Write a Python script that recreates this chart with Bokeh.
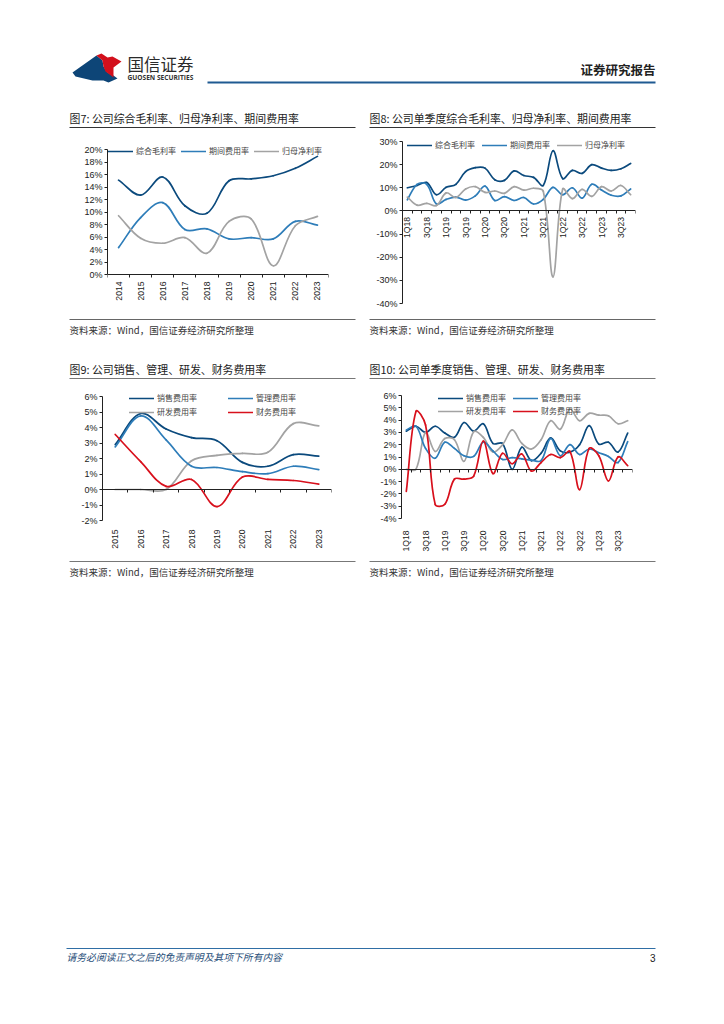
from bokeh.plotting import figure
from bokeh.layouts import column, row
from bokeh.models import Range1d, FixedTicker, LinearAxis, PrintfTickFormatter, ColumnDataSource, Legend, LegendItem
from bokeh.core.properties import value
from bokeh.embed import file_html
from bokeh.resources import INLINE
import math

NAVY, BLUE, GRAY, RED = "#0B4A7D", "#2E7DB9", "#A3A3A3", "#D8101C"
CJK = "Noto Sans CJK SC"
NUM = "Liberation Sans"

years7 = ["2014", "2015", "2016", "2017", "2018", "2019", "2020", "2021", "2022", "2023"]
gross7 = [15.1, 12.7, 15.6, 11.0, 9.8, 15.0, 15.3, 15.8, 17.0, 18.9]
expense7 = [4.3, 9.1, 11.5, 7.2, 7.3, 5.7, 5.9, 5.7, 8.5, 7.9]
net7 = [9.4, 5.8, 5.0, 5.9, 3.4, 8.5, 8.9, 1.4, 7.8, 9.3]

quarters = ["1Q18", "2Q18", "3Q18", "4Q18", "1Q19", "2Q19", "3Q19", "4Q19", "1Q20", "2Q20", "3Q20", "4Q20",
            "1Q21", "2Q21", "3Q21", "4Q21", "1Q22", "2Q22", "3Q22", "4Q22", "1Q23", "2Q23", "3Q23", "4Q23"]
gross8 = [10, 11, 12.3, 7, 10.2, 11.5, 17, 18.7, 18.5, 13.5, 13.2, 17.3, 15.3, 14.5, 11, 26, 14, 17.5, 16.2, 20, 18.5, 17.5, 18.2, 20.5]
expense8 = [4.8, 11.5, 11.5, 3, 5, 6, 4.7, 6.5, 10.7, 4.5, 6.2, 4.5, 5.8, 3, 5, 10.2, 7, 10, 5.5, 11.5, 9, 6.8, 6.5, 9.5]
net8 = [6, 2.5, 3.3, 2.3, 7.8, 5.8, 9.5, 10.5, 8, 8.6, 7.6, 10.5, 9, 9.8, 8.5, -28.5, 9.5, 5.3, 9.3, 6.3, 10.5, 8.6, 11, 7]

years9 = ["2015", "2016", "2017", "2018", "2019", "2020", "2021", "2022", "2023"]
selling9 = [2.9, 4.9, 3.9, 3.35, 3.15, 1.75, 1.5, 2.25, 2.15]
admin9 = [2.75, 4.75, 3.2, 1.5, 1.42, 1.15, 1.02, 1.5, 1.28]
rd9 = [0, 0, 0, 1.85, 2.2, 2.33, 2.4, 4.25, 4.1]
fin9 = [3.55, 1.8, 0.2, 0.65, -1.1, 0.8, 0.65, 0.58, 0.35]

selling10 = [3.1, 3.5, 3.0, 3.5, 2.95, 2.6, 3.8, 3.1, 3.7, 2.1, 2.1, 0.0, 1.8, 0.7, 1.3, 2.55, 1.5, 1.4, 2.0, 3.55, 2.05, 2.2, 1.4, 2.95]
admin10 = [3.2, 3.5, 1.7, 0.9, 2.2, 1.7, 1.1, 1.05, 2.2, 1.5, 0.8, 0.95, 0.85, 0.75, 0.7, 2.5, 1.1, 2.0, 1.2, 1.65, 1.35, 1.05, 0.55, 2.25]
rd10 = [0, 0, 3.0, 1.45, 2.5, 2.4, 0.65, 3.05, 2.6, 1.4, 2.0, 3.2, 2.1, 1.65, 2.4, 3.95, 3.25, 4.9, 3.95, 4.55, 4.4, 4.35, 3.7, 3.95]
fin10 = [-1.8, 4.7, 3.6, -2.85, -2.85, -0.8, -0.8, -0.55, 2.3, -0.35, 1.3, 0.45, 1.25, -0.15, 0.55, 1.2, 0.95, 1.45, -1.65, 1.7, 1.1, -0.95, 1.0, 0.3]

LOGO_BLUE_X = [72, 96, 102, 103, 107, 113, 117, 108, 103, 92, 75]
LOGO_BLUE_Y = [72, 55, 60, 66, 72, 75, 78, 82, 80, 80, 76]
LOGO_RED_X = [96, 101, 107, 112, 121, 113, 113, 105, 103, 102]
LOGO_RED_Y = [55, 53, 57, 56, 61, 67, 77, 71, 66, 60]


def smooth(p, values, color, sx, sy, width=1.7):
    """One cubic Bezier between each pair of read values, spline-smoothed as the source chart's lines are."""
    n = len(values)
    xs = [i + 0.5 for i in range(n)]
    t = 0.36
    out_c, in_c = [], []
    for i in range(n):
        a, b = max(i - 1, 0), min(i + 1, n - 1)
        d0 = math.hypot((xs[i] - xs[a]) * sx, (values[i] - values[a]) * sy)
        d1 = math.hypot((xs[b] - xs[i]) * sx, (values[b] - values[i]) * sy)
        total = (d0 + d1) or 1
        fa, fb = t * d0 / total, t * d1 / total
        dx, dy = xs[b] - xs[a], values[b] - values[a]
        in_c.append((xs[i] - fa * dx, values[i] - fa * dy))
        out_c.append((xs[i] + fb * dx, values[i] + fb * dy))
    idx = range(n - 1)
    src = ColumnDataSource(dict(
        x0=[xs[i] for i in idx], y0=[values[i] for i in idx],
        x1=[xs[i + 1] for i in idx], y1=[values[i + 1] for i in idx],
        cx0=[out_c[i][0] for i in idx], cy0=[out_c[i][1] for i in idx],
        cx1=[in_c[i + 1][0] for i in idx], cy1=[in_c[i + 1][1] for i in idx]))
    return p.bezier("x0", "y0", "x1", "y1", "cx0", "cy0", "cx1", "cy1", source=src,
                    line_color=color, line_width=width, line_cap="round")


def make_legend(items, at, ncols, spacing):
    return Legend(items=items, location=at, orientation="horizontal", ncols=ncols,
                  glyph_width=25, glyph_height=8, label_height=10, label_standoff=3, spacing=spacing,
                  padding=0, margin=0, background_fill_alpha=0, border_line_color=None,
                  label_text_font=CJK, label_text_font_size="8px", label_text_color="#444444")


def chart(cats, label_step, ylo, yhi, ystep, horiz, w, row_box, frame_box, tick_box, standoff, at_zero, series, legends):
    """Frames in one row share top and bottom (Bokeh aligns them); each y range is set so ticks fall on tick_box."""
    left, right = horiz
    row_top, row_bottom = row_box
    frame_top, frame_bottom = frame_box
    tick_top, tick_bottom = tick_box
    n = len(cats)
    sy = (tick_bottom - tick_top) / (yhi - ylo)
    y0 = ylo - (frame_bottom - tick_bottom) / sy
    y1 = yhi + (tick_top - frame_top) / sy
    p = figure(width=w, height=row_bottom - row_top, x_range=Range1d(0, n), y_range=Range1d(y0, y1),
               min_border_left=left, min_border_right=right,
               min_border_top=frame_top - row_top, min_border_bottom=row_bottom - frame_bottom,
               toolbar_location=None, output_backend="svg", outline_line_color=None,
               background_fill_color="white", border_fill_color="white")
    p.grid.visible = False
    ya = p.yaxis[0]
    ya.bounds = (ylo, yhi)
    ya.ticker = FixedTicker(ticks=list(range(ylo, yhi + 1, ystep)))
    ya.formatter = PrintfTickFormatter(format="%d%%")
    ya.major_label_text_font = NUM
    ya.major_label_text_font_size = "9px"
    ya.major_label_text_color = "#222222"
    ya.major_tick_in = 0
    ya.major_tick_out = 3
    ya.minor_tick_line_color = None
    ya.major_label_standoff = 2
    ya.axis_line_color = "#222222"
    ya.major_tick_line_color = "#222222"

    xa = p.xaxis[0]
    shown = list(range(0, n, label_step))
    xa.ticker = FixedTicker(ticks=[i + 0.5 for i in shown])
    xa.major_label_overrides = {i + 0.5: cats[i] for i in shown}
    xa.major_label_orientation = math.pi / 2
    xa.major_label_text_font = NUM
    xa.major_label_text_font_size = "8.6px"
    xa.major_label_text_color = "#222222"
    xa.major_label_standoff = standoff
    xa.major_tick_line_color = None
    xa.minor_tick_line_color = None
    xa.axis_line_color = None
    xa.fixed_location = 0 if at_zero else ylo

    axis_at = 0 if ylo < 0 else ylo
    marks = LinearAxis(ticker=FixedTicker(ticks=list(range(n + 1))), major_label_text_color=None,
                       major_label_text_font_size="1px", axis_line_color="#222222", major_tick_line_color="#222222",
                       major_tick_in=0, major_tick_out=3, minor_tick_line_color=None, fixed_location=axis_at)
    p.add_layout(marks, "below")

    items = []
    sx = (w - left - right) / n
    for label, vals, color in series:
        r = smooth(p, vals, color, sx, sy)
        items.append(LegendItem(label=label, renderers=[r]))
    for at, first, last, ncols, spacing in legends:
        p.add_layout(make_legend(items[first:last], at, ncols, spacing), "center")
    return p


def strip(page_top, page_bottom):
    p = figure(width=716, height=page_bottom - page_top, x_range=Range1d(0, 716),
               y_range=Range1d(page_bottom, page_top), x_axis_location=None, y_axis_location=None,
               toolbar_location=None, output_backend="svg", min_border=0, outline_line_color=None,
               background_fill_color="white", border_fill_color="white")
    p.grid.visible = False
    return p


def put(p, x, y, s, size, font=CJK, color="#222222", style="normal", align="left"):
    p.text([x], [y], text=[s], text_font=value(font), text_font_size=size, text_color=color,
           text_font_style=style, text_baseline="middle", text_align=align)


def rule(p, x0, x1, y, color="#555555", width=1):
    p.segment([x0], [y], [x1], [y], line_color=color, line_width=width)


def source_line(p, x, y):
    put(p, x, y, "资料来源\uff1aWind\uff0c国信证券经济研究所整理", "9.5px", color="#333333")


top = strip(0, 130)
top.patch(LOGO_BLUE_X, LOGO_BLUE_Y, color="#0D4577", line_width=0)
top.patch(LOGO_RED_X, LOGO_RED_Y, color="#D3101C", line_width=0)
put(top, 127, 63, "国信证券", "16.5px", color="#2A2A2A")
put(top, 127, 77, "GUOSEN SECURITIES", "6.6px", font="Open Sans", color="#333333", style="bold")
rule(top, 207, 655, 82, "#1F5A92", 2)
put(top, 655, 69, "证券研究报告", "12.5px", color="#222222", style="bold", align="right")
put(top, 69, 117, "图7: 公司综合毛利率、归母净利率、期间费用率", "10.9px")
put(top, 369, 117, "图8: 公司单季度综合毛利率、归母净利率、期间费用率", "10.9px")
rule(top, 69, 355, 127, "#333333", 1)
rule(top, 369, 655, 127, "#333333", 1)

ROW1 = (130, 318)
FRAME1 = (133, 306)
c7 = chart(years7, 1, 0, 20, 2, (107, 34), 362, ROW1, FRAME1, (149, 274), 1, False,
           [("综合毛利率", gross7, NAVY), ("期间费用率", expense7, BLUE), ("归母净利率", net7, GRAY)],
           [((1, 150), 0, 3, 3, 5)])
c8 = chart(quarters, 2, -40, 30, 10, (40, 81), 354, ROW1, FRAME1, (141, 303), 0, True,
           [("综合毛利率", gross8, NAVY), ("期间费用率", expense8, BLUE), ("归母净利率", net8, GRAY)],
           [((5, 156), 0, 3, 3, 7)])

mid = strip(318, 380)
rule(mid, 69, 355, 319, "#666666", 1)
rule(mid, 369, 655, 319, "#666666", 1)
source_line(mid, 69, 329)
source_line(mid, 369, 329)
put(mid, 69, 368, "图9: 公司销售、管理、研发、财务费用率", "10.9px")
put(mid, 369, 368, "图10: 公司单季度销售、管理、研发、财务费用率", "10.9px")
rule(mid, 69, 355, 378, "#777777", 1)
rule(mid, 369, 655, 378, "#777777", 1)

ROW2 = (380, 558)
FRAME2 = (384, 556)
s9 = [("销售费用率", selling9, NAVY), ("研发费用率", rd9, GRAY), ("管理费用率", admin9, BLUE), ("财务费用率", fin9, RED)]
c9 = chart(years9, 1, -2, 6, 1, (102, 31), 362, ROW2, FRAME2, (396, 520), 3, False, s9,
           [((27, 139), 0, 2, 1, 3), ((126, 139), 2, 4, 1, 3)])
s10 = [("销售费用率", selling10, NAVY), ("研发费用率", rd10, GRAY), ("管理费用率", admin10, BLUE), ("财务费用率", fin10, RED)]
c10 = chart(quarters, 2, -4, 6, 1, (39, 84), 354, ROW2, FRAME2, (395, 518), 6, False, s10,
            [((37, 140), 0, 2, 1, 2), ((112, 140), 2, 4, 1, 2)])

bot = strip(558, 1016)
rule(bot, 69, 355, 561, "#777777", 1)
rule(bot, 369, 655, 561, "#777777", 1)
source_line(bot, 69, 571)
source_line(bot, 369, 571)
rule(bot, 66, 655, 948, "#2F6EA5", 1)
put(bot, 66, 956, "请务必阅读正文之后的免责声明及其项下所有内容", "9.8px", color="#1F4E79", style="italic")
put(bot, 655, 957, "3", "10px", font=NUM, color="#222222", align="right")

page = column(top, row(c7, c8, spacing=0), mid, row(c9, c10, spacing=0), bot, spacing=0)
open("out.html", "w").write(file_html(page, INLINE))
